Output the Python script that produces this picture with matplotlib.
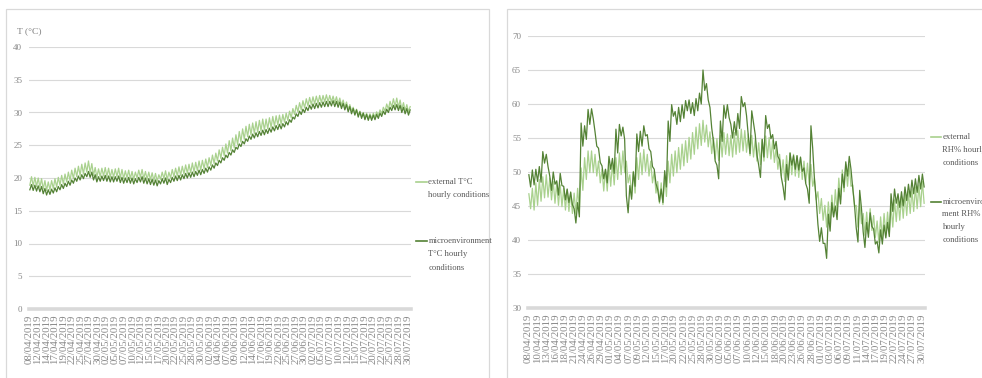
import numpy as np
import matplotlib
matplotlib.use("Agg")
import matplotlib.pyplot as plt
from matplotlib.lines import Line2D
from matplotlib.patches import Rectangle

# ---------------- data: daily low / high readings ----------------
# Temperature (°C), 08/04/2019 - 30/07/2019
micro_t_low = [
    18.2, 18.1, 18.0, 17.9, 17.6, 17.4, 17.5, 17.7, 17.9, 18.2,
    18.4, 18.7, 18.9, 19.2, 19.5, 19.7, 19.9, 20.2, 20.1, 19.7,
    19.4, 19.5, 19.6, 19.5, 19.4, 19.4, 19.5, 19.3, 19.2, 19.3,
    19.2, 19.1, 19.3, 19.4, 19.2, 19.1, 19.0, 18.9, 18.8, 19.1,
    19.2, 19.0, 19.3, 19.5, 19.6, 19.7, 19.9, 20.0, 20.1, 20.2,
    20.4, 20.5, 20.7, 20.9, 21.2, 21.5, 21.9, 22.3, 22.7, 23.1,
    23.5, 23.9, 24.4, 24.8, 25.2, 25.6, 25.9, 26.1, 26.3, 26.5,
    26.6, 26.8, 27.0, 27.2, 27.4, 27.5, 27.8, 28.1, 28.5, 29.0,
    29.4, 29.7, 30.0, 30.3, 30.5, 30.6, 30.7, 30.8, 30.9, 30.9,
    31.0, 30.9, 30.8, 30.6, 30.4, 30.1, 29.8, 29.6, 29.3, 29.1,
    28.9, 28.8, 28.8, 28.9, 29.1, 29.4, 29.7, 30.0, 30.3, 30.4,
    30.3, 30.0, 29.8, 29.6]
micro_t_high = [
    19.0, 18.9, 18.8, 18.7, 18.4, 18.2, 18.3, 18.5, 18.7, 19.0,
    19.2, 19.5, 19.7, 20.0, 20.3, 20.5, 20.7, 21.0, 20.9, 20.5,
    20.2, 20.3, 20.4, 20.3, 20.2, 20.2, 20.3, 20.1, 20.0, 20.1,
    20.0, 19.9, 20.1, 20.2, 20.0, 19.9, 19.8, 19.7, 19.6, 19.9,
    20.0, 19.8, 20.1, 20.3, 20.4, 20.5, 20.7, 20.8, 20.9, 21.0,
    21.2, 21.3, 21.5, 21.7, 22.0, 22.3, 22.7, 23.1, 23.5, 23.9,
    24.3, 24.7, 25.2, 25.6, 26.0, 26.4, 26.7, 26.9, 27.1, 27.3,
    27.4, 27.6, 27.8, 28.0, 28.2, 28.3, 28.6, 28.9, 29.3, 29.8,
    30.2, 30.5, 30.8, 31.1, 31.3, 31.4, 31.5, 31.6, 31.7, 31.7,
    31.8, 31.7, 31.6, 31.4, 31.2, 30.9, 30.6, 30.4, 30.1, 29.9,
    29.7, 29.6, 29.6, 29.7, 29.9, 30.2, 30.5, 30.8, 31.1, 31.2,
    31.1, 30.8, 30.6, 30.4]
ext_t_low = [
    18.9, 18.8, 18.7, 18.6, 18.3, 18.1, 18.2, 18.4, 18.6, 18.9,
    19.1, 19.4, 19.6, 19.9, 20.2, 20.4, 20.6, 20.9, 20.8, 20.4,
    20.1, 20.2, 20.3, 20.2, 20.1, 20.1, 20.2, 20.0, 19.9, 20.0,
    19.9, 19.8, 20.0, 20.1, 19.9, 19.8, 19.7, 19.6, 19.5, 19.8,
    19.9, 19.7, 20.0, 20.2, 20.3, 20.4, 20.6, 20.7, 20.8, 20.9,
    21.1, 21.2, 21.4, 21.6, 21.9, 22.2, 22.6, 23.0, 23.4, 23.8,
    24.2, 24.6, 25.1, 25.5, 25.9, 26.3, 26.6, 26.8, 27.0, 27.2,
    27.3, 27.5, 27.7, 27.9, 28.1, 28.2, 28.5, 28.8, 29.2, 29.7,
    30.1, 30.4, 30.7, 31.0, 31.2, 31.3, 31.4, 31.5, 31.6, 31.6,
    31.6, 31.5, 31.3, 31.1, 30.8, 30.5, 30.2, 29.9, 29.6, 29.4,
    29.2, 29.1, 29.1, 29.3, 29.5, 29.8, 30.2, 30.5, 30.8, 30.9,
    30.8, 30.5, 30.3, 30.1]
ext_t_high = [
    20.2, 20.1, 20.0, 19.9, 19.6, 19.4, 19.6, 19.9, 20.1, 20.4,
    20.6, 20.9, 21.2, 21.5, 21.8, 22.1, 22.3, 22.6, 22.2, 21.6,
    21.4, 21.5, 21.6, 21.5, 21.3, 21.4, 21.5, 21.3, 21.1, 21.2,
    21.0, 20.9, 21.2, 21.3, 21.0, 20.9, 20.8, 20.7, 20.5, 20.9,
    21.1, 20.9, 21.3, 21.5, 21.7, 21.8, 22.0, 22.1, 22.3, 22.4,
    22.6, 22.7, 22.9, 23.1, 23.5, 23.8, 24.3, 24.7, 25.2, 25.7,
    26.1, 26.6, 27.1, 27.5, 27.9, 28.2, 28.4, 28.6, 28.8, 29.0,
    29.0, 29.2, 29.4, 29.5, 29.6, 29.7, 29.9, 30.2, 30.6, 31.1,
    31.5, 31.8, 32.1, 32.3, 32.4, 32.5, 32.6, 32.6, 32.7, 32.6,
    32.5, 32.4, 32.2, 31.9, 31.6, 31.2, 30.8, 30.5, 30.2, 30.0,
    29.9, 29.8, 29.9, 30.1, 30.4, 30.8, 31.3, 31.7, 32.1, 32.2,
    31.9, 31.5, 31.2, 30.9]

# Relative humidity (%), same period
micro_rh_low = [
    47.8, 48.1, 48.6, 48.5, 51.3, 50.8, 47.3, 48.2, 46.6, 48.0,
    45.9, 45.5, 45.2, 42.5, 43.4, 53.8, 54.8, 57.0, 57.8, 53.8,
    51.4, 49.0, 48.4, 50.4, 49.8, 52.8, 55.3, 54.8, 44.0, 46.0,
    47.9, 53.0, 53.8, 55.3, 53.4, 50.8, 48.3, 45.6, 45.5, 47.8,
    54.5, 58.2, 57.0, 57.4, 57.9, 59.0, 58.6, 58.3, 59.0, 60.0,
    62.0, 60.6, 56.5, 51.6, 49.0, 54.5, 57.9, 58.0, 55.0, 55.4,
    56.4, 59.6, 58.3, 52.7, 57.2, 52.5, 49.2, 52.2, 56.4, 54.9,
    53.4, 52.3, 49.2, 45.9, 48.8, 51.0, 50.4, 50.3, 50.1, 48.3,
    45.4, 53.5, 46.0, 39.8, 39.5, 37.3, 41.3, 43.4, 43.0, 45.3,
    47.7, 49.4, 50.4, 45.2, 39.7, 44.7, 38.9, 40.4, 42.0, 39.4,
    38.1, 39.4, 40.3, 40.5, 44.2, 45.4, 44.8, 45.0, 45.8, 46.3,
    46.8, 47.0, 47.5, 47.8]
micro_rh_high = [
    49.6, 50.3, 50.4, 50.8, 53.0, 52.6, 49.4, 50.0, 48.7, 49.8,
    47.9, 47.5, 47.0, 44.6, 45.5, 57.2, 56.8, 59.2, 59.3, 55.9,
    53.5, 50.9, 50.4, 52.3, 52.0, 56.3, 57.0, 56.6, 46.5, 48.0,
    50.0, 55.6, 56.0, 56.8, 55.5, 53.0, 50.4, 47.4, 47.5, 50.2,
    57.5, 59.9, 58.9, 59.5, 59.9, 60.5, 60.6, 60.2, 60.8, 61.6,
    65.0, 63.0, 59.5, 54.5, 51.0, 57.5, 59.8, 59.9, 57.0, 57.4,
    58.6, 61.1, 60.2, 55.4, 59.0, 55.5, 51.0, 54.8, 58.3, 57.0,
    55.5, 54.5, 51.8, 47.8, 51.1, 52.8, 52.4, 52.4, 52.2, 50.6,
    47.5, 56.8, 49.0, 42.3, 41.8, 39.5, 43.8, 45.5, 45.0, 47.6,
    49.7, 51.5, 52.3, 47.6, 41.8, 47.3, 41.2, 42.6, 44.0, 41.6,
    39.8, 41.5, 42.2, 42.6, 46.8, 47.5, 46.8, 47.1, 47.8, 48.2,
    48.8, 49.0, 49.5, 49.7]
ext_rh_low = [
    44.6, 44.4, 45.1, 45.7, 46.2, 46.3, 45.9, 45.4, 45.1, 44.9,
    44.4, 44.2, 43.9, 43.8, 44.4, 47.3, 48.9, 49.9, 49.9, 49.4,
    48.4, 47.2, 47.2, 47.9, 48.1, 48.9, 49.6, 49.9, 48.4, 46.4,
    46.9, 48.9, 49.6, 50.1, 49.4, 48.4, 46.9, 45.4, 45.2, 46.4,
    48.4, 49.4, 49.9, 50.4, 50.9, 51.4, 51.9, 52.6, 53.4, 53.9,
    54.4, 53.7, 52.7, 51.9, 51.7, 52.2, 52.6, 52.4, 52.2, 52.6,
    52.9, 53.1, 52.9, 52.4, 52.2, 51.6, 51.1, 51.6, 52.1, 51.9,
    51.4, 50.4, 49.4, 48.6, 49.2, 49.6, 49.4, 49.2, 48.9, 48.4,
    48.1, 47.9, 45.9, 43.9, 42.9, 41.9, 42.4, 43.4, 44.2, 45.9,
    47.1, 47.9, 47.9, 44.9, 41.9, 42.4, 40.7, 40.9, 41.4, 40.4,
    39.6, 40.2, 40.7, 40.9, 41.9, 42.7, 42.9, 43.2, 43.6, 43.9,
    44.2, 44.6, 44.9, 45.4]
ext_rh_high = [
    46.8, 47.6, 48.4, 48.9, 49.3, 49.6, 49.1, 48.6, 48.4, 48.1,
    47.6, 47.4, 47.1, 46.9, 47.6, 50.6, 52.1, 53.1, 53.1, 52.6,
    51.6, 50.4, 50.4, 51.1, 51.3, 52.1, 52.8, 53.1, 51.6, 49.6,
    50.1, 52.1, 52.8, 53.3, 52.6, 51.6, 50.1, 48.6, 48.4, 49.6,
    51.6, 52.6, 53.1, 53.6, 54.1, 54.6, 55.1, 55.8, 56.6, 57.1,
    57.6, 56.9, 55.9, 55.1, 54.9, 55.4, 55.8, 55.6, 55.4, 55.8,
    56.1, 56.3, 56.1, 55.6, 55.4, 54.8, 54.3, 54.8, 55.3, 55.1,
    54.6, 53.6, 52.6, 51.8, 52.4, 52.8, 52.6, 52.4, 52.1, 51.6,
    51.3, 51.1, 49.1, 47.1, 46.1, 45.1, 45.6, 46.6, 47.4, 49.1,
    50.3, 51.1, 51.1, 48.1, 45.1, 45.6, 43.9, 44.1, 44.6, 43.6,
    42.8, 43.4, 43.9, 44.1, 45.1, 45.9, 46.1, 46.4, 46.8, 47.1,
    47.4, 47.8, 48.1, 48.6]

t_labels = [
    "08/04/2019", "12/04/2019", "14/04/2019", "17/04/2019", "19/04/2019",
    "22/04/2019", "25/04/2019", "27/04/2019", "30/04/2019", "02/05/2019",
    "05/05/2019", "07/05/2019", "10/05/2019", "12/05/2019", "15/05/2019",
    "17/05/2019", "20/05/2019", "22/05/2019", "25/05/2019", "28/05/2019",
    "30/05/2019", "02/06/2019", "04/06/2019", "07/06/2019", "09/06/2019",
    "12/06/2019", "14/06/2019", "17/06/2019", "19/06/2019", "22/06/2019",
    "25/06/2019", "27/06/2019", "30/06/2019", "02/07/2019", "05/07/2019",
    "07/07/2019", "10/07/2019", "12/07/2019", "15/07/2019", "17/07/2019",
    "20/07/2019", "22/07/2019", "25/07/2019", "28/07/2019", "30/07/2019"]
rh_labels = [
    "08/04/2019", "10/04/2019", "13/04/2019", "16/04/2019", "18/04/2019",
    "21/04/2019", "24/04/2019", "26/04/2019", "29/04/2019", "01/05/2019",
    "04/05/2019", "07/05/2019", "09/05/2019", "12/05/2019", "15/05/2019",
    "17/05/2019", "20/05/2019", "22/05/2019", "25/05/2019", "28/05/2019",
    "30/05/2019", "02/06/2019", "05/06/2019", "07/06/2019", "10/06/2019",
    "12/06/2019", "15/06/2019", "18/06/2019", "20/06/2019", "23/06/2019",
    "26/06/2019", "28/06/2019", "01/07/2019", "03/07/2019", "06/07/2019",
    "09/07/2019", "11/07/2019", "14/07/2019", "17/07/2019", "19/07/2019",
    "22/07/2019", "24/07/2019", "27/07/2019", "30/07/2019"]

# ---------------- style ----------------
LIGHT = "#A9D18E"
DARK = "#548235"
GRID = "#D9D9D9"
TXT = "#888888"
LEG = "#595959"
SERIF = "Liberation Serif"
W, H = 982, 378


def fx(px):
    return px / W


def fy(py):
    return 1 - py / H


def day_series(first, second):
    """Alternate the two daily readings along a half-day time axis."""
    n = len(first)
    t = np.column_stack([np.arange(n) + 0.25, np.arange(n) + 0.75]).ravel()
    v = np.column_stack([first, second]).ravel()
    return t, v


fig = plt.figure(figsize=(W / 100, H / 100), dpi=100)

# chart-area frames
fig.add_artist(Rectangle((fx(5.5), -0.05), fx(489) - fx(5.5), fy(9.5) + 0.05,
                         transform=fig.transFigure, fill=False, ec=GRID, lw=0.9))
fig.add_artist(Rectangle((fx(507), -0.05), 0.6, fy(9.5) + 0.05,
                         transform=fig.transFigure, fill=False, ec=GRID, lw=0.9))


def style_axes(ax, ymin, ymax, labels):
    ax.set_xlim(0, len(micro_t_low))
    ax.set_ylim(ymin, ymax)
    ax.set_yticks(np.arange(ymin, ymax + 1, 5))
    for s in ax.spines.values():
        s.set_visible(False)
    ax.yaxis.grid(True, color=GRID, lw=0.8)
    ax.set_axisbelow(True)
    ax.axhline(ymin, color=GRID, lw=2.6, clip_on=False, zorder=1)
    n = len(labels)
    ax.set_xticks(np.linspace(0, len(micro_t_low) - 1.0, n))
    ax.set_xticklabels(labels, rotation=90, fontsize=7.8, family=SERIF, color=TXT)
    ax.tick_params(axis="both", length=0)
    ax.tick_params(axis="x", pad=4)
    ax.tick_params(axis="y", pad=5)
    for lab in ax.get_yticklabels():
        lab.set_family(SERIF)
        lab.set_fontsize(6.5)
        lab.set_color(TXT)


# ---------------- temperature panel ----------------
ax1 = fig.add_axes([fx(29), fy(309), fx(411) - fx(29), fy(47) - fy(309)])
style_axes(ax1, 0, 40, t_labels)
t, v = day_series(ext_t_low, ext_t_high)
ax1.plot(t, v, color=LIGHT, lw=0.9, zorder=3)
t, v = day_series(micro_t_low, micro_t_high)
ax1.plot(t, v, color=DARK, lw=0.9, zorder=4)
fig.text(fx(17), fy(31), "T (°C)", family=SERIF, fontsize=6.8, color="#7F7F7F",
         ha="left", va="center")

# ---------------- humidity panel ----------------
ax2 = fig.add_axes([fx(528), fy(308), fx(925) - fx(528), fy(36) - fy(308)])
style_axes(ax2, 30, 70, rh_labels)
t, v = day_series(ext_rh_high, ext_rh_low)
ax2.plot(t, v, color=LIGHT, lw=0.9, zorder=3)
t, v = day_series(micro_rh_high, micro_rh_low)
ax2.plot(t, v, color=DARK, lw=0.9, zorder=4)


# ---------------- legends ----------------
def legend_entry(x0, x1, y, color, lines, step):
    fig.add_artist(Line2D([fx(x0), fx(x1)], [fy(y), fy(y)], color=color,
                          lw=1.2, transform=fig.transFigure))
    for i, s in enumerate(lines):
        fig.text(fx(x1 + 1.5), fy(y + i * step), s, family=SERIF, fontsize=6.2,
                 color=LEG, ha="left", va="center")


legend_entry(416, 427, 182, LIGHT, ["external T°C", "hourly conditions"], 13)
legend_entry(416, 427, 241, DARK, ["microenvironment", "T°C hourly", "conditions"], 13.5)
legend_entry(931, 941, 137, LIGHT, ["external", "RH% hourly", "conditions"], 13)
legend_entry(931, 941, 202, DARK, ["microenviron", "ment RH%", "hourly", "conditions"], 12.5)

fig.savefig("out.png", dpi=100, facecolor="white")
